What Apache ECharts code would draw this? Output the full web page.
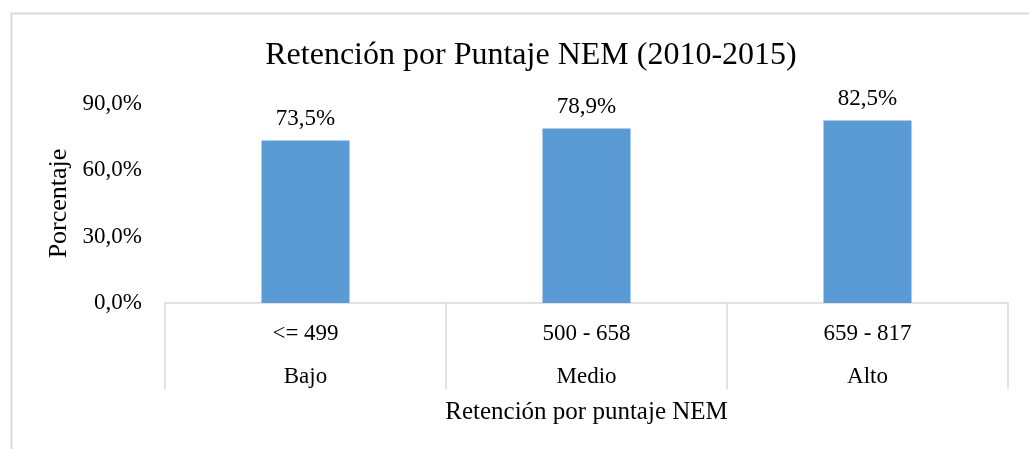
<!DOCTYPE html>
<html>
<head>
<meta charset="utf-8">
<script src="https://cdn.jsdelivr.net/npm/echarts@6/dist/echarts.min.js"></script>
<style>
  html, body { margin: 0; padding: 0; background: #fff; }
  #mychart { width: 1029px; height: 449px; }
</style>
</head>
<body>
<div id="mychart"></div>
<script>
// data
const ranges = ['<= 499', '500 - 658', '659 - 817']
const levels = ['Bajo', 'Medio', 'Alto']
const retention = [73.5, 78.9, 82.5]
const yTicks = { min: 0, max: 90, interval: 30 }

const font = '"Liberation Serif", "Times New Roman", serif'
const pct = v => v.toFixed(1).replace('.', ',') + '%'

let myChart = echarts.init(document.getElementById('mychart'))

let option = {
    backgroundColor: '#fff',
    textStyle: { fontFamily: font },
    title: {
        text: 'Retención por Puntaje NEM (2010-2015)',
        left: 526,
        top: 35,
        textAlign: 'center',
        textStyle: { fontFamily: font, fontSize: 32, fontWeight: 'normal', color: '#000' }
    },
    graphic: [{
        type: 'rect',
        shape: { x: 11.5, y: 13.5, width: 1100, height: 500 },
        style: { fill: 'none', stroke: '#d9d9d9', lineWidth: 2 },
        silent: true
    }],
    grid: { left: 165, right: 21, top: 104, bottom: 146 },
    xAxis: [{
        type: 'category',
        data: ranges,
        position: 'bottom',
        axisLine: { lineStyle: { color: '#d9d9d9', width: 1.5 } },
        axisTick: { show: true, interval: 0, length: 86, lineStyle: { color: '#d9d9d9', width: 1.5 } },
        axisLabel: { interval: 0, margin: 19, fontFamily: font, fontSize: 23, color: '#000' },
        name: 'Retención por puntaje NEM',
        nameLocation: 'middle',
        nameGap: 97,
        nameTextStyle: { fontFamily: font, fontSize: 25, color: '#000' }
    }, {
        type: 'category',
        data: levels,
        position: 'bottom',
        axisLine: { show: false },
        axisTick: { show: false },
        axisLabel: { interval: 0, margin: 62, fontFamily: font, fontSize: 23, color: '#000' }
    }],
    yAxis: {
        type: 'value',
        min: yTicks.min,
        max: yTicks.max,
        interval: yTicks.interval,
        splitLine: { show: false },
        axisLine: { show: false },
        axisTick: { show: false },
        axisLabel: { margin: 23, fontFamily: font, fontSize: 23, color: '#000', formatter: pct },
        name: 'Porcentaje',
        nameLocation: 'middle',
        nameGap: 87,
        nameTextStyle: { fontFamily: font, fontSize: 26, color: '#000' }
    },
    series: [{
        type: 'bar',
        data: retention,
        xAxisIndex: 0,
        barWidth: 88,
        itemStyle: { color: '#5b9bd5' },
        label: {
            show: true,
            position: 'top',
            distance: 10,
            fontFamily: font,
            fontSize: 23,
            color: '#000',
            formatter: p => pct(p.value)
        }
    }]
}

myChart.setOption(option)
</script>
</body>
</html>
